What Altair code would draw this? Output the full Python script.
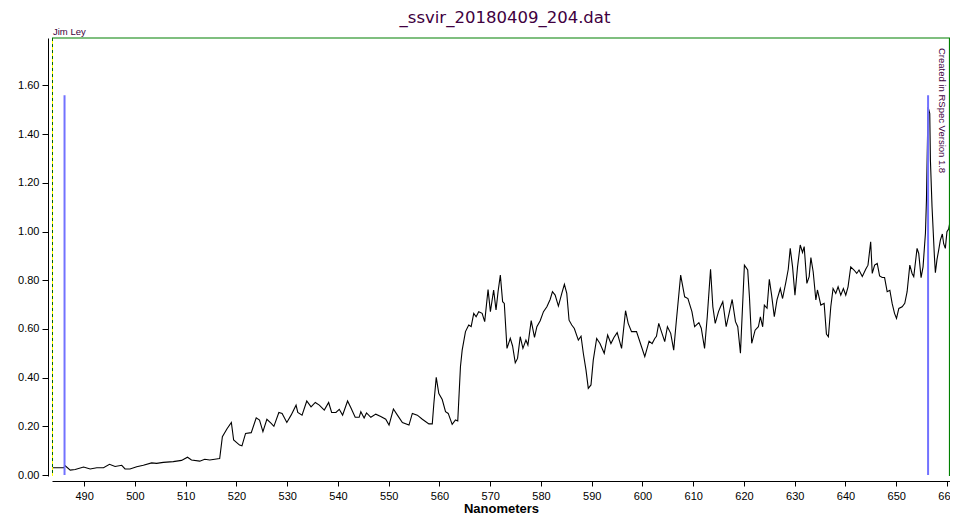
import altair as alt
import pandas as pd

# ---- spectrum (wavelength in nm, relative flux) ----
WL1 = [483.66, 485.96, 486.27, 487.25, 488.23, 489.88, 491.18, 492.49, 493.81, 494.99, 496.09, 497.40, 498.05, 499.03, 500.35, 501.66, 503.29, 504.27, 505.59, 507.55, 509.18, 510.36, 511.14, 512.77, 513.75, 514.74, 516.38, 516.70]
F1 = [0.030, 0.030, 0.038, 0.020, 0.023, 0.033, 0.025, 0.030, 0.030, 0.044, 0.035, 0.040, 0.025, 0.025, 0.034, 0.040, 0.050, 0.048, 0.052, 0.055, 0.060, 0.073, 0.062, 0.057, 0.065, 0.062, 0.067, 0.068]

WL2 = [517.23, 518.15, 519.00, 519.45, 520.62, 521.09, 521.80, 522.92, 523.90, 524.55, 525.22, 526.00, 526.85, 527.38, 528.36, 529.00, 529.93, 530.77, 531.75, 532.09, 532.93, 533.86, 534.70, 535.54, 536.33, 537.31, 538.17, 538.76, 539.61, 540.26, 540.92, 541.90, 542.55, 543.40, 544.18, 544.51, 545.16, 545.63, 546.48, 547.46, 548.44, 549.42, 550.07, 550.93, 551.72, 552.70, 554.00, 554.66, 555.64, 556.63, 557.92, 558.59, 558.90, 559.37]
F2 = [0.157, 0.190, 0.216, 0.144, 0.123, 0.120, 0.171, 0.174, 0.235, 0.226, 0.178, 0.229, 0.212, 0.200, 0.257, 0.253, 0.216, 0.246, 0.287, 0.257, 0.246, 0.304, 0.280, 0.298, 0.287, 0.267, 0.298, 0.257, 0.257, 0.270, 0.246, 0.304, 0.276, 0.237, 0.237, 0.260, 0.234, 0.255, 0.237, 0.250, 0.240, 0.229, 0.205, 0.271, 0.246, 0.216, 0.205, 0.253, 0.246, 0.229, 0.210, 0.210, 0.294, 0.401]

WL3 = [559.88, 560.55, 561.20, 561.73, 562.51, 563.16, 563.61, 564.14, 564.48, 565.13, 565.77, 566.25, 566.76, 567.23, 567.74, 568.41, 568.92, 569.58, 570.04, 570.68, 571.15, 571.55, 572.00, 572.45, 572.78, 573.31, 573.96, 574.41, 574.94, 575.39, 575.92, 576.45, 577.04, 577.43, 578.08, 578.73, 579.20, 579.85, 580.50, 581.17, 581.81, 582.27, 582.80, 583.44, 584.11, 584.62, 585.09, 585.54, 586.07, 586.58, 587.37, 587.90, 588.35, 588.88, 589.33, 589.86, 590.31, 590.98, 591.63, 592.47, 593.14, 593.79, 594.38, 595.02, 595.89, 596.67, 597.19, 597.85, 598.83, 599.82, 600.46, 601.31, 601.90, 602.43]
F3 = [0.335, 0.310, 0.260, 0.253, 0.208, 0.226, 0.222, 0.445, 0.513, 0.589, 0.616, 0.610, 0.664, 0.650, 0.671, 0.664, 0.630, 0.762, 0.671, 0.760, 0.678, 0.753, 0.821, 0.712, 0.705, 0.520, 0.561, 0.530, 0.461, 0.479, 0.568, 0.520, 0.554, 0.534, 0.634, 0.565, 0.609, 0.634, 0.671, 0.691, 0.721, 0.753, 0.739, 0.694, 0.746, 0.783, 0.746, 0.636, 0.616, 0.602, 0.554, 0.570, 0.500, 0.431, 0.356, 0.370, 0.472, 0.561, 0.540, 0.500, 0.575, 0.540, 0.565, 0.585, 0.520, 0.675, 0.623, 0.589, 0.589, 0.527, 0.486, 0.550, 0.540, 0.561]

WL4 = [602.76, 603.21, 603.74, 604.39, 604.92, 605.57, 606.16, 606.69, 607.53, 608.32, 608.96, 609.75, 610.28, 611.12, 611.59, 612.24, 612.77, 613.42, 613.87, 614.34, 614.99, 615.38, 615.83, 616.50, 617.15, 617.68, 618.33, 618.78, 619.31, 620.09, 620.74, 621.08, 621.53, 622.20, 622.84, 623.24, 623.69, 624.02, 624.55, 625.00, 625.45, 625.98, 626.51, 627.16, 627.61, 628.28, 628.73, 629.12, 629.58, 630.05, 630.56, 631.09, 631.54, 631.87]
F4 = [0.570, 0.623, 0.589, 0.548, 0.609, 0.582, 0.513, 0.636, 0.821, 0.732, 0.725, 0.671, 0.609, 0.626, 0.603, 0.520, 0.650, 0.845, 0.691, 0.623, 0.671, 0.691, 0.712, 0.609, 0.671, 0.721, 0.630, 0.609, 0.500, 0.862, 0.842, 0.732, 0.541, 0.595, 0.609, 0.650, 0.609, 0.698, 0.685, 0.804, 0.739, 0.650, 0.719, 0.766, 0.725, 0.794, 0.845, 0.931, 0.855, 0.739, 0.855, 0.945, 0.914, 0.938]

WL5 = [632.40, 632.85, 633.19, 633.64, 634.17, 634.48, 635.15, 635.80, 636.25, 636.64, 637.11, 637.56, 638.09, 638.55, 639.08, 639.59, 640.06, 640.51, 641.04, 641.69, 642.22, 642.67, 643.32, 643.99, 644.44, 644.97, 645.28, 645.75, 646.26, 646.73, 647.24, 647.71, 648.22, 648.75, 649.20, 649.67, 650.06, 650.52, 651.17, 651.69, 652.15, 652.68, 653.13, 653.46, 654.11, 654.44, 654.90, 655.29, 655.76, 655.96, 656.27, 656.61, 656.74, 657.06, 657.53, 657.72, 658.04, 658.37, 658.70, 659.09, 659.35, 659.68, 660.00, 660.33, 660.60]
F5 = [0.787, 0.815, 0.893, 0.835, 0.719, 0.760, 0.698, 0.705, 0.579, 0.568, 0.691, 0.766, 0.746, 0.773, 0.739, 0.766, 0.739, 0.773, 0.855, 0.842, 0.828, 0.842, 0.815, 0.845, 0.862, 0.958, 0.828, 0.862, 0.869, 0.818, 0.811, 0.811, 0.753, 0.759, 0.705, 0.664, 0.643, 0.684, 0.691, 0.705, 0.753, 0.862, 0.828, 0.815, 0.931, 0.910, 0.811, 0.855, 0.993, 1.129, 1.512, 1.485, 1.294, 1.102, 0.897, 0.831, 0.886, 0.924, 0.965, 0.990, 0.950, 0.931, 0.999, 1.010, 1.040]

# hydrogen marker lines (H-beta, H-alpha)
H_LINES_NM = [486.13, 656.28]
H_LINE_TOP = 1.56

X_TICKS = [490, 500, 510, 520, 530, 540, 550, 560, 570, 580, 590, 600, 610, 620, 630, 640, 650, 660]
Y_TICKS = [0.0, 0.1, 0.2, 0.3, 0.4, 0.5, 0.6, 0.7, 0.8, 0.9, 1.0, 1.1, 1.2, 1.3, 1.4, 1.5, 1.6, 1.7]
X_DOMAIN = [483.66, 660.6]
Y_DOMAIN = [-0.004, 1.795]

TITLE = "_ssvir_20180409_204.dat"
AUTHOR = "Jim Ley"
CREDIT = "Created in RSpec Version 1.8"

WL = WL1 + WL2 + WL3 + WL4 + WL5
FL = F1 + F2 + F3 + F4 + F5
assert len(WL) == len(FL)

W, H = 898, 438
PURPLE = "#400040"
GREEN = "#008000"

spec_df = pd.DataFrame({"nm": WL, "flux": FL})
hl_df = pd.DataFrame({"nm": H_LINES_NM, "flux": [0.0] * len(H_LINES_NM),
                      "top": [H_LINE_TOP] * len(H_LINES_NM)})
one = pd.DataFrame({"k": [0]})

xs = alt.Scale(domain=X_DOMAIN, nice=False, zero=False)
ys = alt.Scale(domain=Y_DOMAIN, nice=False, zero=False)

spectrum = alt.Chart(spec_df).mark_line(color="black", strokeWidth=1.1).encode(
    x=alt.X("nm:Q", scale=xs,
            axis=alt.Axis(values=X_TICKS, format="d", offset=5, tickSize=5,
                          labelPadding=4, labelFlush=False, labelOverlap=False,
                          grid=False, title="Nanometers", titleFontSize=13,
                          titleFontWeight="bold", titleY=31,
                          titleBaseline="alphabetic")),
    y=alt.Y("flux:Q", scale=ys,
            axis=alt.Axis(values=Y_TICKS, format=".2f", offset=4, tickSize=6,
                          labelPadding=3, labelOverlap=False, grid=False,
                          title=None)),
)

hlines = alt.Chart(hl_df).mark_rule(color="#7272ff", strokeWidth=2).encode(
    x=alt.X("nm:Q", scale=xs),
    y=alt.Y("flux:Q", scale=ys),
    y2="top:Q",
)

frame_top = alt.Chart(one).mark_rule(color=GREEN, strokeWidth=1.2).encode(
    x=alt.value(0), x2=alt.value(W), y=alt.value(0))
frame_right = alt.Chart(one).mark_rule(color=GREEN, strokeWidth=1.2).encode(
    x=alt.value(W - 0.5), y=alt.value(0), y2=alt.value(H))
frame_left_y = alt.Chart(one).mark_rule(color="#ffff00", strokeWidth=1).encode(
    x=alt.value(0.5), y=alt.value(0), y2=alt.value(H))
frame_left_g = alt.Chart(one).mark_rule(color="#006400", strokeWidth=1,
                                        strokeDash=[3, 3]).encode(
    x=alt.value(0.5), y=alt.value(0), y2=alt.value(H))

title = alt.Chart(one).mark_text(text=TITLE, font="DejaVu Sans", fontSize=16.5,
                                 color=PURPLE, align="center",
                                 baseline="alphabetic").encode(
    x=alt.value(453), y=alt.value(-15))
author = alt.Chart(one).mark_text(text=AUTHOR, font="Liberation Sans", fontSize=9.5,
                                  color=PURPLE, align="left",
                                  baseline="alphabetic").encode(
    x=alt.value(1), y=alt.value(-3))
credit = alt.Chart(one).mark_text(text=CREDIT, font="Liberation Sans", fontSize=9.5,
                                  color=PURPLE, align="left", angle=90,
                                  baseline="alphabetic").encode(
    x=alt.value(W - 11), y=alt.value(10))

chart = alt.layer(
    spectrum, hlines,
    frame_left_y, frame_left_g, frame_top, frame_right,
    title, author, credit,
).properties(
    width=W, height=H,
    autosize=alt.AutoSizeParams(type="none"),
    padding={"left": 44, "top": 30, "right": 0, "bottom": 39},
).configure_view(
    strokeOpacity=0,
).configure_axis(
    labelFont="Liberation Sans", titleFont="Liberation Sans",
    labelFontSize=11, labelColor="black", titleColor="black",
    domainColor="black", tickColor="black", domainWidth=1, tickWidth=1,
)

chart.save("out.html", embed_options={"renderer": "svg", "actions": False})
